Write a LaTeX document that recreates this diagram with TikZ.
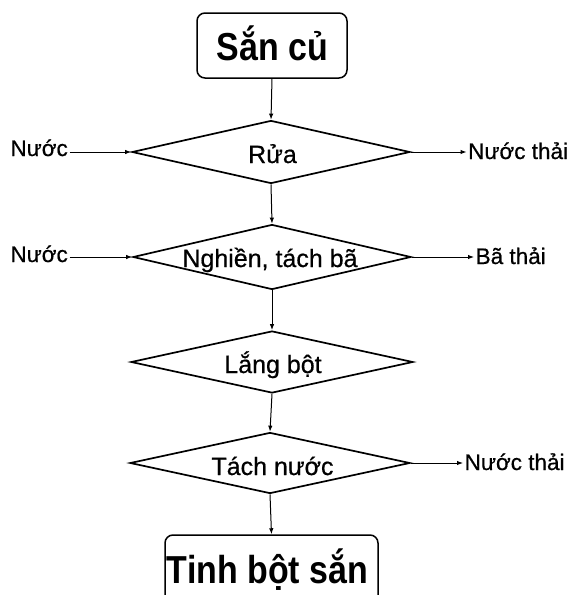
\documentclass[tikz,border=0pt]{standalone}
\usepackage{fontspec}
\setmainfont{Liberation Sans}[FakeBold=0.6]
\newfontfamily\titlefont{Liberation Sans}[FakeStretch=0.87]
\usetikzlibrary{shapes.geometric,arrows.meta}
\begin{document}
\begin{tikzpicture}[x=1pt,y=-1pt,
  dia/.style={draw, shape=diamond, line width=1.7pt, inner sep=0pt, minimum width=278pt, minimum height=63pt},
  box/.style={draw, line width=1.5pt, rounded corners=8pt, inner sep=0pt},
  flow/.style={line width=1pt, -{Latex[length=6pt,width=4.5pt]}},
  side/.style={font=\fontsize{22.5}{26}\selectfont, inner sep=1.5pt, text height=16pt, text depth=0pt},
  dtext/.style={font=\fontsize{25}{30}\selectfont, inner sep=0pt},
  ttext/.style={font=\titlefont\bfseries\fontsize{39}{44}\selectfont, inner sep=0pt}]
\useasboundingbox (0,0) rectangle (576,595);
\begin{scope}
\clip (0,0) rectangle (576,595);
% boxes
\node[box, minimum width=150pt, minimum height=65pt] (b1) at (272,45.5) {};
\node[ttext, anchor=base] (tb1) at (272.5,60) {Sắn củ};
\node[box, minimum width=213pt, minimum height=80pt] (b2) at (271.5,575) {};
\node[ttext, anchor=base] (tb2) at (267.5,583) {Tinh bột sắn};
% diamonds
\node[dia] (d1) at (271,152) {};
\node[dtext, anchor=base] (t1) at (272.5,163) {Rửa};
\node[dia, minimum height=65pt] (d2) at (272,257) {};
\node[dtext, anchor=base] (t2) at (270,267) {Nghiền, tách bã};
\node[dia, minimum width=282pt, minimum height=62pt] (d3) at (272,362) {};
\node[dtext, anchor=base] (t3) at (273,373) {Lắng bột};
\node[dia, minimum width=280pt, minimum height=61pt] (d4) at (270,463) {};
\node[dtext, anchor=base] (t4) at (272.5,475) {Tách nước};
% side labels
\node[side, anchor=east] (l1) at (69.5,148) {Nước};
\node[side, anchor=west] (r1) at (466.5,151) {Nước thải};
\node[side, anchor=east] (l2) at (69.5,254) {Nước};
\node[side, anchor=west] (r2) at (474,256) {Bã thải};
\node[side, anchor=west] (r4) at (463,462) {Nước thải};
% connectors
\draw[flow] (b1.south) -- (d1.north);
\draw[flow] (d1.south) -- (d2.north);
\draw[flow] (d2.south) -- (d3.north);
\draw[flow] (d3.south) -- (d4.north);
\draw[flow] (d4.south) -- (b2.north);
\draw[flow] (l1.east |- d1.west) -- (d1.west);
\draw[flow] (d1.east) -- (r1.west |- d1.east);
\draw[flow] (l2.east |- d2.west) -- (d2.west);
\draw[flow] (d2.east) -- (r2.west |- d2.east);
\draw[flow] (d4.east) -- (r4.west |- d4.east);
\end{scope}
\end{tikzpicture}
\end{document}
